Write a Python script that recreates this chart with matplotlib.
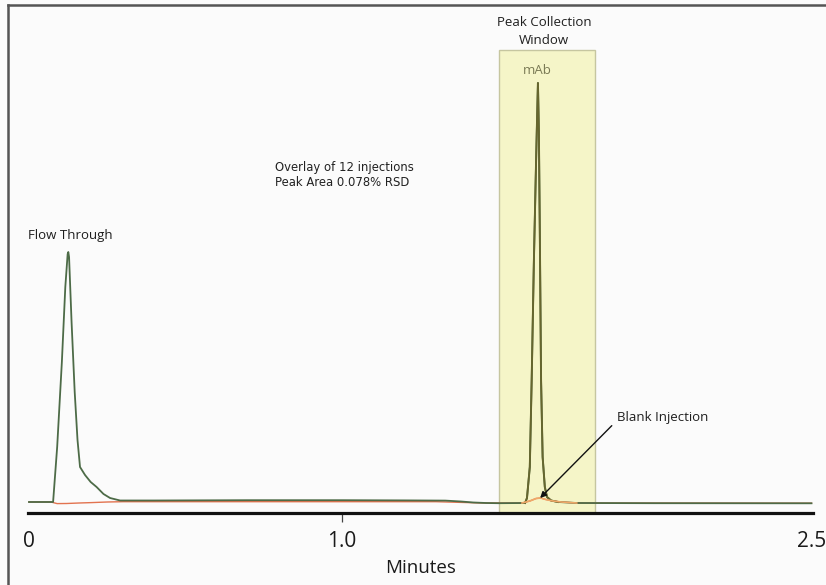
import matplotlib
matplotlib.use("Agg")
import matplotlib.pyplot as plt
from matplotlib.patches import Rectangle
from matplotlib.lines import Line2D
import numpy as np

# ---- data (time in minutes, signal in arbitrary units) ----
sample_time = [0.000, 0.050, 0.077, 0.090, 0.105, 0.116, 0.1235, 0.1256, 0.128,
               0.136, 0.146, 0.155, 0.163, 0.179, 0.197, 0.216, 0.238, 0.259,
               0.291, 0.40, 0.70, 1.00, 1.20, 1.33, 1.38, 1.42, 1.46, 1.50,
               1.585, 1.591, 1.600, 1.606, 1.613, 1.620, 1.623, 1.626, 1.629,
               1.632, 1.636, 1.641, 1.648, 1.655, 1.668, 1.690, 1.75, 2.00, 2.50]
sample_signal = [0.0, 0.0, 0.0, 55, 140, 215, 248, 250, 245,
                 180, 110, 62, 35, 27, 20, 15, 8, 4,
                 1.5, 1.5, 1.8, 1.8, 1.6, 1.4, 0.5, -0.5, -1.0, -1.2,
                 -1.0, 4, 35, 122, 240, 340, 380, 419, 370,
                 270, 122, 45, 15, 5, 1.5, 0.0, -1.0, -1.2, -1.3]

blank_time = [0.000, 0.070, 0.090, 0.120, 0.160, 0.200, 0.250, 0.300, 1.30,
              1.45, 1.575, 1.600, 1.620, 1.635, 1.650, 1.670, 1.700, 1.750, 2.50]
blank_signal = [0.0, 0.0, -1.6, -1.5, -1.0, -0.6, 0.0, 0.3, 0.3,
                -1.0, -1.0, 1.0, 3.5, 4.0, 2.6, 1.2, 0.0, -1.0, -1.2]

window_start, window_end = 1.502, 1.808
window_top = 452

tick_values = [0.0, 1.0, 2.5]
tick_labels = ["0", "1.0", "2.5"]

# ---- figure ----
W, H = 826, 585
fig = plt.figure(figsize=(W / 100, H / 100), dpi=100)
fig.patch.set_facecolor("#fbfbfb")

x0, x1 = -0.004, 2.506
px_per_min = 313.0
left_px = 29 - (0 - x0) * px_per_min
width_px = (x1 - x0) * px_per_min
bottom_px, top_px = 513, 5
ax = fig.add_axes([left_px / W, (H - bottom_px) / H, width_px / W, (bottom_px - top_px) / H])
ax.set_facecolor("none")
ax.set_xlim(x0, x1)
ax.set_ylim(-11, 497)

for s in ["left", "right", "top"]:
    ax.spines[s].set_visible(False)
ax.spines["bottom"].set_linewidth(2.3)
ax.spines["bottom"].set_color("#111111")
ax.set_yticks([])

sans = ["Open Sans", "DejaVu Sans"]

ax.set_xticks(tick_values)
ax.set_xticklabels(tick_labels, fontsize=15, family=sans, color="#1a1a1a")
ax.tick_params(axis="x", length=6.5, width=0.9, color="#444444", pad=6.5)
ticks = ax.xaxis.get_major_ticks()
ticks[0].tick1line.set_visible(False)
ticks[2].tick1line.set_visible(False)
ticks[2].label1.set_horizontalalignment("center")
ax.set_xlabel("Minutes", fontsize=13.5, family=sans, color="#1a1a1a", labelpad=5)

# collection window
ax.add_patch(Rectangle((window_start, -11), window_end - window_start, window_top + 11,
                       facecolor="#f5f5c8", edgecolor="#c6c6a0", lw=1.0, zorder=1))

t = np.array(sample_time)
sgn = np.array(sample_signal)
bt = np.array(blank_time)
bs = np.array(blank_signal)

ax.plot(bt, bs, color="#e2734f", lw=1.0, zorder=2)
ax.plot(t, sgn, color="#4d6b47", lw=1.3, zorder=3)
m = (t >= 1.55) & (t <= 1.70)
ax.plot(t[m], sgn[m], color="#66662e", lw=1.4, zorder=4)
mb = (bt >= 1.57) & (bt <= 1.76)
ax.plot(bt[mb], bs[mb], color="#efa868", lw=1.2, zorder=5)

# annotations
lab = dict(fontsize=9.5, family=sans, color="#1e1e1e")
ax.text(-0.003, 267, "Flow Through", ha="left", va="center", **lab)
ax.text(1.623, 432, "mAb", fontsize=9.5, family=sans, color="#7a7a55", ha="center", va="center")
ax.text(1.645, 479, "Peak Collection", ha="center", va="center", **lab)
ax.text(1.645, 462, "Window", ha="center", va="center", **lab)
ax.text(0.786, 334, "Overlay of 12 injections", fontsize=8.4, family=["DejaVu Sans"],
        color="#222222", ha="left", va="center")
ax.text(0.786, 320, "Peak Area 0.078% RSD", fontsize=8.4, family=["DejaVu Sans"],
        color="#222222", ha="left", va="center")
ax.annotate("Blank Injection", xy=(1.633, 4), xytext=(1.877, 85),
            ha="left", va="center",
            arrowprops=dict(arrowstyle="-|>", color="#111111", lw=1.0,
                            mutation_scale=9, shrinkA=2, shrinkB=0,
                            relpos=(0.0, 0.2)), zorder=6, **lab)

# outer frame (left and top)
fig.add_artist(Line2D([8 / W, 8 / W], [0, 1 - 5 / H], color="#555555", lw=1.8))
fig.add_artist(Line2D([8 / W, 1], [1 - 5 / H, 1 - 5 / H], color="#555555", lw=1.8))

fig.savefig("out.png", dpi=100, facecolor=fig.get_facecolor())
